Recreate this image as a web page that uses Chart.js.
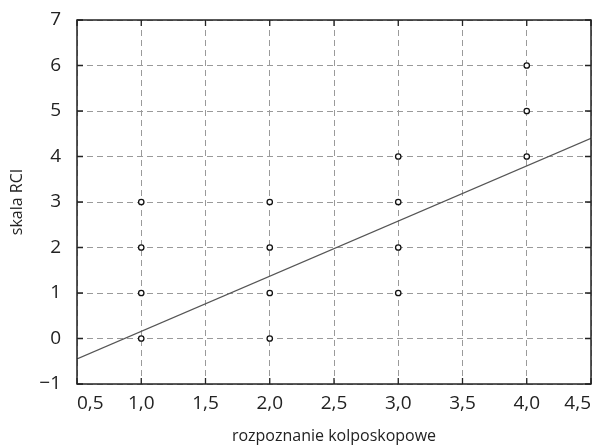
<!DOCTYPE html>
<html>
<head>
<meta charset="utf-8">
<script src="https://cdn.jsdelivr.net/npm/chart.js@4/dist/chart.umd.min.js"></script>
<style>
	html, body { margin: 0; padding: 0; background: #fff; }
	#wrap { width: 601px; height: 448px; }
</style>
</head>
<body>
<div id="wrap"><canvas id="myChart" width="601" height="448"></canvas></div>
<script>
// rozpoznanie kolposkopowe vs skala RCI
const pointX = [1, 1, 1, 1, 2, 2, 2, 2, 3, 3, 3, 3, 4, 4, 4]
const pointY = [0, 1, 2, 3, 0, 1, 2, 3, 1, 2, 3, 4, 4, 5, 6]
const lineX = [0.5, 4.5]
const lineY = [-0.45, 4.4]
const xTicks = [0.5, 1.0, 1.5, 2.0, 2.5, 3.0, 3.5, 4.0, 4.5]
const yTicks = [-1, 0, 1, 2, 3, 4, 5, 6, 7]

const fontFamily = '"Open Sans", "Noto Sans", sans-serif'

const fmtX = v => v.toFixed(1).replace('.', ',')
const fmtY = v => (v < 0 ? '\u2212' + Math.abs(v) : String(v))

// frame + short inward ticks
const framePlugin = {
	id: 'frame',
	afterDatasetsDraw(chart) {
		const {ctx, chartArea: a, scales} = chart
		ctx.save()
		ctx.strokeStyle = '#222'
		ctx.lineWidth = 1.5
		ctx.strokeRect(a.left, a.top, a.right - a.left, a.bottom - a.top)
		ctx.lineWidth = 1.3
		ctx.beginPath()
		xTicks.forEach(t => {
			const px = scales.x.getPixelForValue(t)
			ctx.moveTo(px, a.bottom); ctx.lineTo(px, a.bottom - 6)
			ctx.moveTo(px, a.top); ctx.lineTo(px, a.top + 6)
		})
		yTicks.forEach(t => {
			const py = scales.y.getPixelForValue(t)
			ctx.moveTo(a.left, py); ctx.lineTo(a.left + 6, py)
			ctx.moveTo(a.right, py); ctx.lineTo(a.right - 6, py)
		})
		ctx.stroke()
		ctx.restore()
	}
}

const ctx = document.getElementById('myChart')
new Chart(ctx, {
	type: 'scatter',
	data: {
		datasets: [
			{
				type: 'line',
				data: lineX.map((x, i) => ({x, y: lineY[i]})),
				borderColor: '#555',
				borderWidth: 1.2,
				pointRadius: 0,
				fill: false,
				order: 2,
			},
			{
				data: pointX.map((x, i) => ({x, y: pointY[i]})),
				pointRadius: 2.7,
				pointBorderWidth: 1.3,
				pointBackgroundColor: '#fff',
				pointBorderColor: '#111',
				order: 1,
			},
		],
	},
	options: {
		responsive: false,
		animation: false,
		layout: {padding: {left: 0, right: 0, top: 20, bottom: 0}},
		plugins: {legend: {display: false}, tooltip: {enabled: false}},
		scales: {
			x: {
				type: 'linear',
				min: 0.5,
				max: 4.5,
				afterBuildTicks: s => { s.ticks = xTicks.map(v => ({value: v})) },
				afterFit: s => { s.height = 64; s.paddingRight = 10; s.paddingLeft = 0 },
				ticks: {
					callback: v => fmtX(v),
					color: '#222',
					font: {family: fontFamily, size: 19},
					padding: 8,
					maxRotation: 0,
					align: 'inner',
				},
				grid: {color: '#9a9a9a', lineWidth: 1, drawTicks: false, tickLength: 0},
				border: {display: false, dash: [6, 4]},
				title: {
					display: true,
					text: 'rozpoznanie kolposkopowe',
					color: '#222',
					font: {family: fontFamily, size: 16},
					padding: {top: 0, bottom: 2},
				},
			},
			y: {
				type: 'linear',
				min: -1,
				max: 7,
				afterBuildTicks: s => { s.ticks = yTicks.map(v => ({value: v})) },
				afterFit: s => { s.width = 77; s.paddingTop = 0; s.paddingBottom = 0 },
				ticks: {
					callback: v => fmtY(v),
					color: '#222',
					font: {family: fontFamily, size: 19},
					padding: 16,
				},
				grid: {color: '#9a9a9a', lineWidth: 1, drawTicks: false, tickLength: 0},
				border: {display: false, dash: [6, 4]},
				title: {
					display: true,
					text: 'skala RCI',
					color: '#222',
					font: {family: fontFamily, size: 16},
					padding: {top: 8, bottom: 0},
				},
			},
		},
	},
	plugins: [framePlugin],
})
</script>
</body>
</html>
